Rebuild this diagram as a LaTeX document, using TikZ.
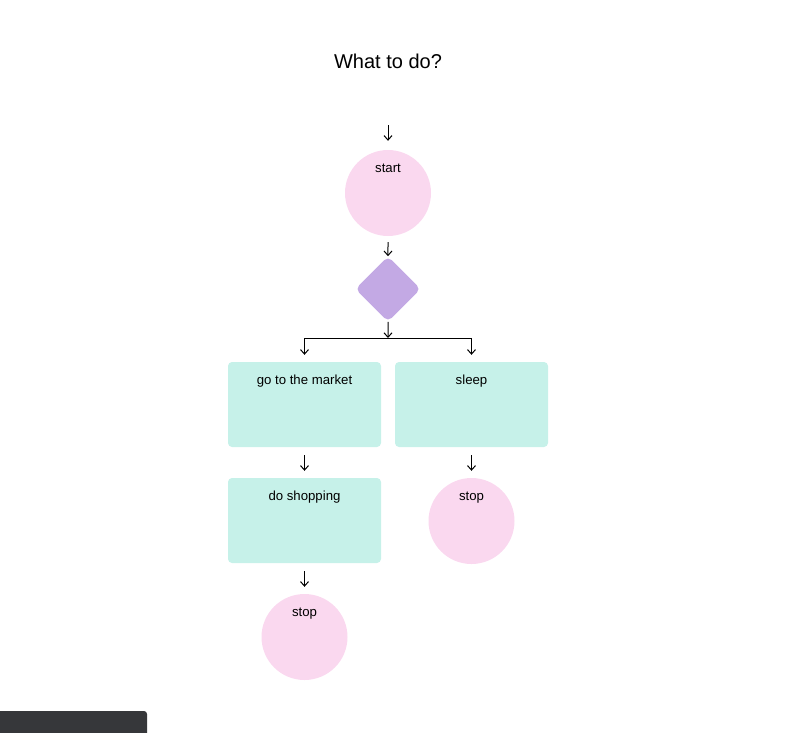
\documentclass[tikz,border=0pt]{standalone}
\usepackage{fontspec}
\setmainfont{Liberation Sans}
\usetikzlibrary{arrows.meta}

\definecolor{stoppink}{HTML}{FAD8EF}
\definecolor{taskmint}{HTML}{C6F1E9}
\definecolor{choicepurple}{HTML}{C3A9E4}
\definecolor{bargrey}{HTML}{36373A}

\begin{document}
\begin{tikzpicture}[x=1pt, y=-1pt,
    terminal/.style={circle, fill=stoppink, minimum size=86pt, inner sep=0pt},
    task/.style={rectangle, rounded corners=4pt, fill=taskmint, minimum width=153pt, minimum height=85pt},
    choice/.style={rectangle, rounded corners=5pt, fill=choicepurple, minimum size=46pt, rotate=45},
    flow/.style={-{Straight Barb[length=4.5pt, width=8pt]}, line width=1pt},
    toptext/.style={font=\fontsize{13.2}{15}\selectfont, anchor=base, yshift=-23pt}]
    \useasboundingbox (0,0) rectangle (789,732);
    \node at (388,61) [font=\fontsize{20}{24}\selectfont] (title) {What to do?};
    \coordinate (entry) at (388,125);
    \node at (388,193) [terminal, label={[toptext]north:start}] (start) {};
    \node at (388,289) [choice] (decision) {};
    \coordinate (fork) at (388,338);
    \node at (304.5,404.5) [task, label={[toptext]north:go to the market}] (market) {};
    \node at (471.5,404.5) [task, label={[toptext]north:sleep}] (sleep) {};
    \node at (304.5,520.5) [task, label={[toptext]north:do shopping}] (shopping) {};
    \node at (304.5,637) [terminal, label={[toptext]north:stop}] (stop left) {};
    \node at (471.5,521) [terminal, label={[toptext]north:stop}] (stop right) {};
    \draw [flow] (entry) -- ([yshift=9pt]start.north);
    \draw [flow, shorten <=6pt] (start) -- (decision);
    \draw [flow] (decision) -- (fork);
    % split into the two branches
    \draw [flow] (fork) -| ([yshift=7pt]market.north);
    \draw [flow] (fork) -| ([yshift=7pt]sleep.north);
    \draw [flow, shorten <=8pt, shorten >=7pt] (market) -- (shopping);
    \draw [flow, shorten <=8pt, shorten >=7pt] (shopping) -- (stop left);
    \draw [flow, shorten <=8pt, shorten >=7pt] (sleep) -- (stop right);
    \fill [bargrey, rounded corners=3pt] (-6,711) rectangle (147,745);
\end{tikzpicture}
\end{document}
